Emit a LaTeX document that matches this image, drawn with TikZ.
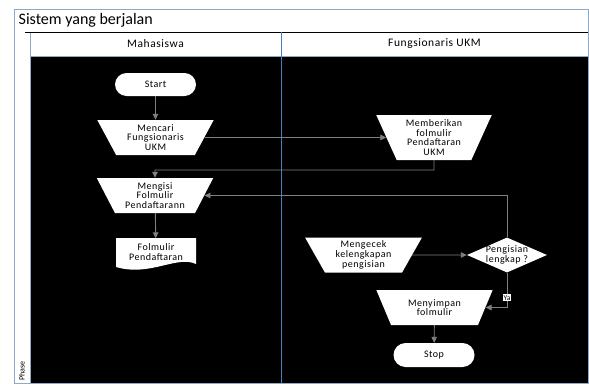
\documentclass[tikz,border=0pt]{standalone}
\usepackage{fontspec}
\setmainfont{Carlito}
\usetikzlibrary{shapes.geometric,arrows.meta}
\pgfdeclarelayer{lanes}
\pgfdeclarelayer{background}
\pgfsetlayers{lanes,background,main}

\definecolor{flowline}{HTML}{808080}
\definecolor{laneblue}{HTML}{4A7EBB}
\definecolor{frameblue}{HTML}{8EA9C8}

\newfontfamily\spaced[LetterSpace=5]{Carlito}

\tikzset{
  every node/.style={font=\spaced\fontsize{10}{9.8}\selectfont, align=center, inner sep=0pt},
  term/.style={draw=none, fill=white, rounded corners=11.5pt, minimum width=81pt, minimum height=23pt},
  trap/.style={draw=none, fill=white, trapezium, trapezium stretches=true,
    shape border rotate=180, trapezium left angle=#1, trapezium right angle=#1,
    minimum width=117pt, minimum height=35pt},
  trap/.default=63,
  decision/.style={draw=none, fill=white, diamond, minimum width=80pt, minimum height=35pt},
  docbox/.style={minimum width=80pt, minimum height=27pt},
  flow/.style={draw=flowline, line width=0.9pt, -{Triangle[length=6pt,width=5.5pt]}},
  tag/.style={fill=white, font=\fontsize{7.5}{7.5}\selectfont, inner sep=1pt},
}

\begin{document}
\begin{tikzpicture}[x=1pt, y=-1pt]
\useasboundingbox (0,0) rectangle (589,383);

% swimlane frame
\begin{pgfonlayer}{lanes}
  \fill[white] (0,0) rectangle (589,383);
  \fill[black] (30,56) rectangle (588,383);
  \draw[frameblue, line width=0.8pt] (14,9) rectangle (588,383);
  \draw[frameblue, line width=0.8pt] (30,32) -- (30,383);
  \draw[frameblue, line width=0.8pt] (30,56) -- (588,56);
  \draw[black, line width=1.6pt] (25,32.5) -- (588,32.5);
  \draw[laneblue, line width=0.9pt] (281,32) -- (281,383);
  \node[font=\fontsize{16}{16}\selectfont, anchor=west] (title) at (18.5,20.5) {Sistem yang berjalan};
  \node[font=\spaced\fontsize{11.5}{12}\selectfont] (lane1) at (155.5,44) {Mahasiswa};
  \node[font=\spaced\fontsize{11.5}{12}\selectfont] (lane2) at (434.5,44) {Fungsionaris UKM};
  \node[font=\fontsize{8}{8}\selectfont, rotate=90, anchor=west] (phase) at (22,381) {Phase};
\end{pgfonlayer}

% Mahasiswa lane
\node[term] (start) at (155.5,84.5) {Start};
\node[trap] (mencari) at (155.5,137.5) {Mencari\\Fungsionaris\\UKM};
\node[trap] (mengisi) at (155,195.5) {Mengisi\\Folmulir\\Pendaftarann};
\node[docbox] (doc) at (156,252) {Folmulir\\Pendaftaran};
\begin{pgfonlayer}{background}
  \fill[white] (116,238) -- (196,238) -- (196,264)
     .. controls (177,255) and (150,277) .. (116,267) -- cycle;
\end{pgfonlayer}

% Fungsionaris UKM lane
\node[trap=67, minimum width=116pt, minimum height=45pt] (memberi) at (434,137.5)
  {Memberikan\\folmulir\\Pendaftaran\\UKM};
\node[trap] (mengecek) at (363.5,255) {Mengecek\\kelengkapan\\pengisian};
\node[decision] (cek) at (507,255) {};
\node (cektext) at (cek.center) {Pengisian\\lengkap ?};
\node[trap=62] (simpan) at (434.5,307.5) {Menyimpan\\folmulir};
\node[term, minimum height=24pt, rounded corners=12pt] (stop) at (434,355) {Stop};

% connectors
\coordinate (j1) at (434,170);
\draw[flow] (start) -- (mencari);
\draw[flow] (mencari) -- (memberi);
\draw[flow] (memberi.south) -- (j1) -| (mengisi.north);
\draw[flow] (mengisi) -- (doc);
\draw[flow] (mengecek) -- (cek);
\draw[flow] (cek.north) |- (mengisi.east);
\draw[flow] (cek.south) |- node[tag, pos=0.36] (ya) {Ya} (simpan.east);
\draw[flow] (simpan) -- (stop);
\end{tikzpicture}
\end{document}
